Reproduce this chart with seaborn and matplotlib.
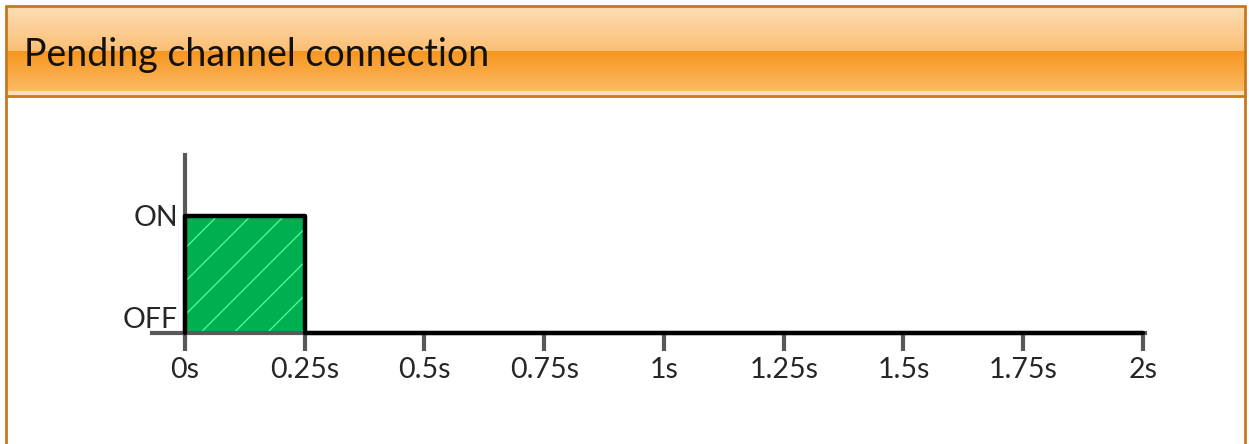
import numpy as np
import matplotlib.pyplot as plt
import seaborn as sns
from matplotlib.lines import Line2D

# signal trace: time (s) vs state (0 = OFF, 1 = ON)
times = [0.0, 0.0, 0.25, 0.25, 2.0]
state = [0, 1, 1, 0, 0]
xticks = [0, 0.25, 0.5, 0.75, 1.0, 1.25, 1.5, 1.75, 2.0]
xlabels = ['0s', '0.25s', '0.5s', '0.75s', '1s', '1.25s', '1.5s', '1.75s', '2s']
ylabels = ['OFF', 'ON']
title = 'Pending channel connection'

sns.set_style('white')
plt.rcParams['font.family'] = ['Lato', 'DejaVu Sans']
plt.rcParams['hatch.linewidth'] = 0.9

W, H = 1249, 444
fig = plt.figure(figsize=(W / 100, H / 100), dpi=100)

def fx(px):
    return px / W

def fy(py):
    return 1 - py / H

# header band with gradient
hdr = fig.add_axes([fx(7), fy(95), fx(1238), fy(7) - fy(95)])
top = np.linspace(0, 1, 44)[:, None] * (np.array([251, 191, 117]) - np.array([253, 221, 181])) + np.array([253, 221, 181])
bot = np.linspace(0, 1, 40)[:, None] * (np.array([251, 186, 98]) - np.array([247, 150, 32])) + np.array([247, 150, 32])
hl = np.tile(np.array([[253, 224, 184]]), (4, 1))
grad = np.vstack([top, bot, hl]) / 255.0
hdr.imshow(grad[:, None, :], aspect='auto', extent=[0, 1, 1, 0])
hdr.set_axis_off()
hdr.text(17 / 1238, 0.54, title, fontsize=27, va='center', ha='left', color='#111111')

# panel border
bc = '#C8781E'
for xs, ys in [([6, 1245], [6, 6]), ([6, 1245], [96, 96]), ([6, 6], [6, 444]), ([1245, 1245], [6, 444])]:
    fig.add_artist(Line2D([fx(x) for x in xs], [fy(y) for y in ys], color=bc, lw=2))

# main chart
ax = fig.add_axes([fx(152), fy(337), fx(1145) - fx(152), fy(155) - fy(337)])
ax.set_facecolor('none')
ax.fill_between(times, state, 0, color='#00B050', hatch='/', edgecolor='#4DFF9A', linewidth=0)
sns.lineplot(x=times, y=state, sort=False, estimator=None, color='black', lw=3.2, ax=ax)
ax.set_xlim(-0.0689, 2.0042)
ax.set_ylim(-0.034, 1.521)

for s in ['top', 'right']:
    ax.spines[s].set_visible(False)
ax.spines['left'].set_position(('data', 0))
ax.spines['bottom'].set_position(('data', 0))
for s in ['left', 'bottom']:
    ax.spines[s].set_color('#595959')
    ax.spines[s].set_linewidth(3)
    ax.spines[s].set_zorder(1)

ax.set_xticks(xticks)
ax.set_xticklabels(xlabels, fontsize=20.5)
ax.set_yticks([0, 1])
ax.set_yticklabels(ylabels, fontsize=20.5)
ax.tick_params(axis='x', length=13, width=3, color='#595959', pad=4, bottom=True)
ax.tick_params(axis='y', length=0, pad=5, left=True)
ax.get_yticklabels()[0].set_va('bottom')
ax.set_xlabel('')
ax.set_ylabel('')

fig.savefig('out.png', dpi=100)
